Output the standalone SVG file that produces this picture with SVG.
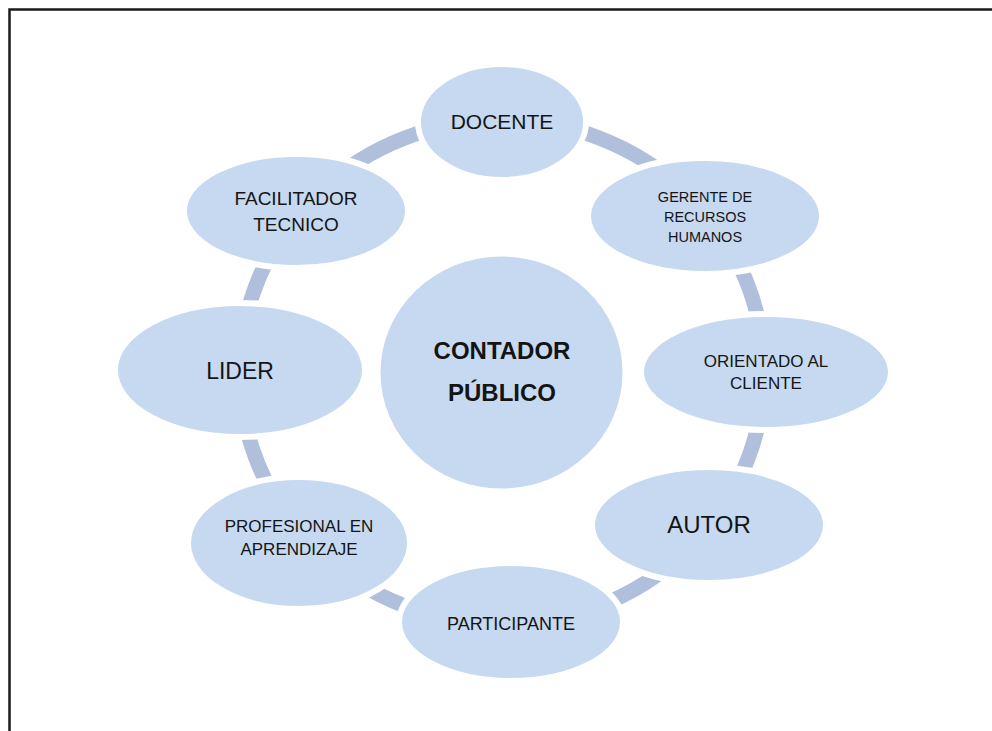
<svg xmlns="http://www.w3.org/2000/svg" width="992" height="731" viewBox="0 0 992 731">
  <style>
    .node { fill: #c6d9f0; stroke: #ffffff; stroke-width: 6; }
    .hub { fill: #c6d9f0; }
    .lbl { font-family: "Liberation Sans", Arial, sans-serif; fill: #141414; text-anchor: middle; }
    .ring { fill: none; stroke: #b0bfdb; stroke-width: 15; }
  </style>
  <rect width="992" height="731" fill="#ffffff"/>
  <!-- page frame (right and bottom edges run off the canvas) -->
  <path d="M9.5 731 V9.5 H992" fill="none" stroke="#1a1a1a" stroke-width="2.5"/>

  <g id="connectors">
    <ellipse class="ring" cx="502" cy="372" rx="262" ry="252"/>
  </g>

  <g id="contador">
    <ellipse class="hub" cx="501.5" cy="372.5" rx="121" ry="116"/>
    <text class="lbl" x="502" y="359" font-size="24" font-weight="bold">CONTADOR</text>
    <text class="lbl" x="502" y="401" font-size="24" font-weight="bold">PÚBLICO</text>
  </g>

  <g id="docente">
    <ellipse class="node" cx="502" cy="122" rx="84" ry="58"/>
    <text class="lbl" x="502" y="129" font-size="21">DOCENTE</text>
  </g>

  <g id="gerente">
    <ellipse class="node" cx="705" cy="216" rx="117" ry="58"/>
    <text class="lbl" x="705" y="202" font-size="14.5">GERENTE DE</text>
    <text class="lbl" x="705" y="222" font-size="14.5">RECURSOS</text>
    <text class="lbl" x="705" y="242" font-size="14.5">HUMANOS</text>
  </g>

  <g id="orientado">
    <ellipse class="node" cx="766" cy="372" rx="125" ry="58"/>
    <text class="lbl" x="766" y="367" font-size="17">ORIENTADO AL</text>
    <text class="lbl" x="766" y="389" font-size="17">CLIENTE</text>
  </g>

  <g id="autor">
    <ellipse class="node" cx="709" cy="525" rx="117" ry="58"/>
    <text class="lbl" x="709" y="533" font-size="24">AUTOR</text>
  </g>

  <g id="participante">
    <ellipse class="node" cx="511" cy="622" rx="112" ry="59"/>
    <text class="lbl" x="511" y="630" font-size="18">PARTICIPANTE</text>
  </g>

  <g id="profesional">
    <ellipse class="node" cx="299" cy="543" rx="111" ry="66"/>
    <text class="lbl" x="299" y="532" font-size="17">PROFESIONAL EN</text>
    <text class="lbl" x="299" y="555" font-size="17">APRENDIZAJE</text>
  </g>

  <g id="lider">
    <ellipse class="node" cx="240" cy="370" rx="125" ry="67"/>
    <text class="lbl" x="240" y="379" font-size="23">LIDER</text>
  </g>

  <g id="facilitador">
    <ellipse class="node" cx="296" cy="211" rx="112" ry="57"/>
    <text class="lbl" x="296" y="205" font-size="19">FACILITADOR</text>
    <text class="lbl" x="296" y="231" font-size="19">TECNICO</text>
  </g>
</svg>
